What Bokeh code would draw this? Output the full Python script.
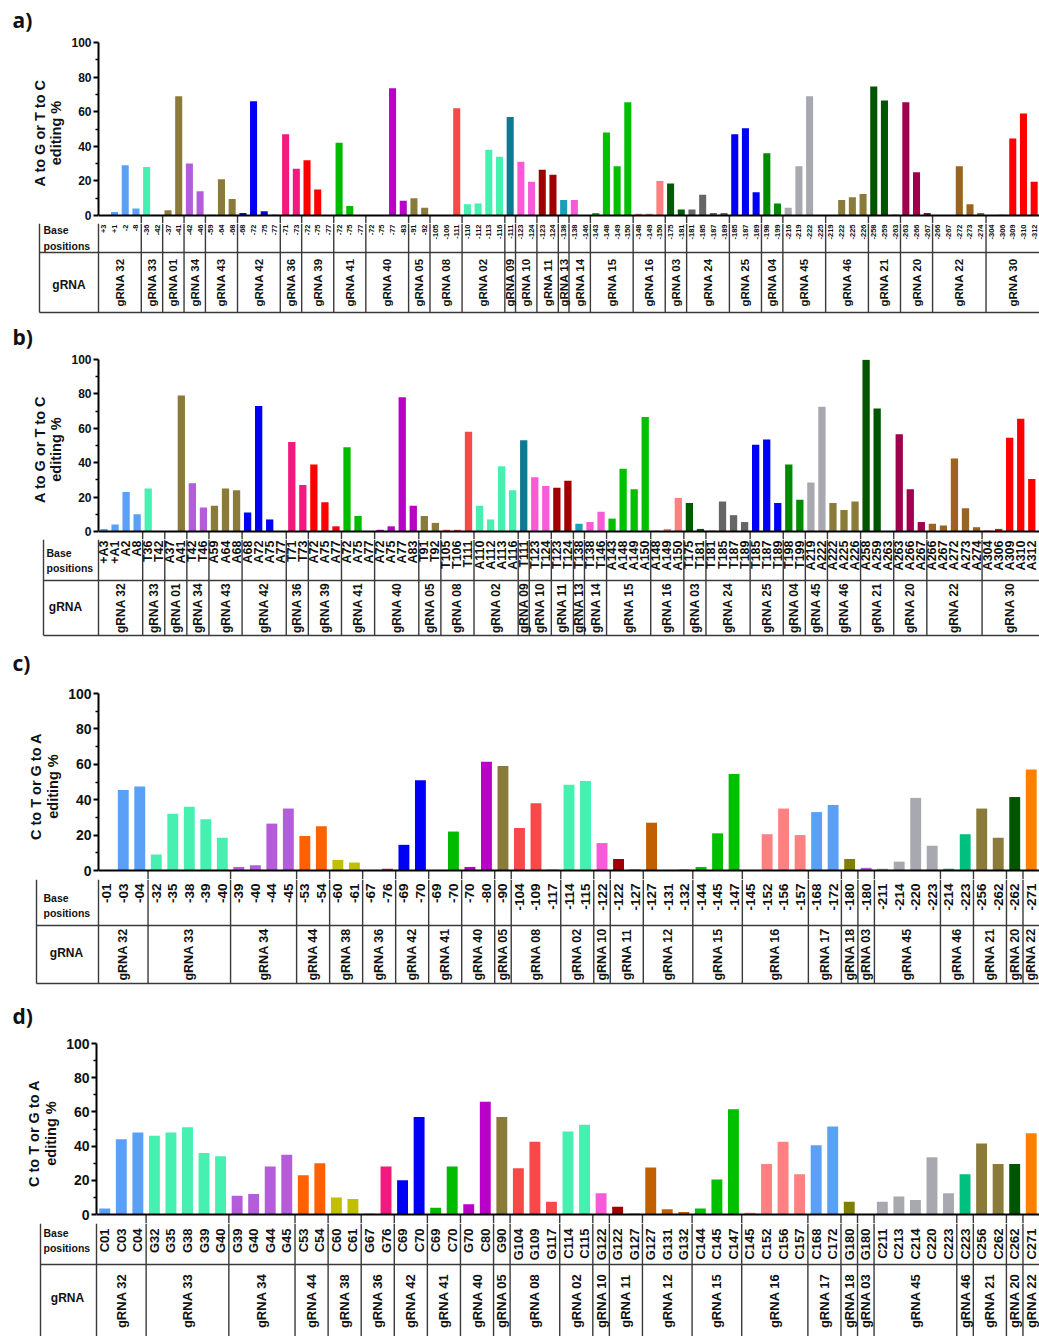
import math
from bokeh.plotting import figure
from bokeh.layouts import column
from bokeh.models import Range1d, FixedTicker, Span
from bokeh.embed import file_html
from bokeh.resources import INLINE
from bokeh.core.properties import value

# ---------------- data ----------------
a_grna = ["gRNA 32", "gRNA 33", "gRNA 01", "gRNA 34", "gRNA 43", "gRNA 42", "gRNA 36", "gRNA 39",
          "gRNA 41", "gRNA 40", "gRNA 05", "gRNA 08", "gRNA 02", "gRNA 09", "gRNA 10", "gRNA 11",
          "gRNA 13", "gRNA 14", "gRNA 15", "gRNA 16", "gRNA 03", "gRNA 24", "gRNA 25", "gRNA 04",
          "gRNA 45", "gRNA 46", "gRNA 21", "gRNA 20", "gRNA 22", "gRNA 30"]
a_sizes = [4, 2, 2, 2, 3, 4, 2, 3, 3, 4, 2, 3, 4, 1, 2, 2, 1, 2, 4, 3, 2, 4, 3, 2, 4, 4, 3, 3, 5, 5]
a_pos = ["+3", "+1", "-2", "-8", "-36", "-42", "-37", "-41", "-42", "-46", "-59", "-64", "-68",
         "-68", "-72", "-75", "-77", "-71", "-73", "-72", "-75", "-77", "-72", "-75", "-77",
         "-72", "-75", "-77", "-83", "-91", "-92", "-105", "-106", "-111", "-110", "-112", "-113", "-116",
         "-111", "-123", "-124", "-123", "-124", "-138", "-138", "-146", "-143", "-148", "-149", "-150",
         "-148", "-149", "-150", "-175", "-181", "-181", "-185", "-187", "-189", "-185", "-187", "-189",
         "-198", "-199", "-216", "-219", "-222", "-225", "-219", "-222", "-225", "-226",
         "-258", "-259", "-263", "-263", "-266", "-267", "-266", "-267", "-272", "-273", "-274",
         "-304", "-306", "-309", "-310", "-312"]
a_val = [0, 2, 29, 4, 28, 0.5, 3, 69, 30, 14, 0.5, 21, 9.5, 1.5, 66, 2.5, 0.5, 47, 27, 32, 15, 0,
         42, 5.5, 0, 0, 0, 73.5, 8.5, 10, 4.5, 0, 0, 62, 6.5, 7, 38, 34, 57, 31, 19.5, 26.5, 23.5, 9,
         9, 0, 1.5, 48, 28.5, 65.5, 1, 1, 20, 18.5, 3.5, 3.5, 12, 1.5, 1.5, 47, 50.5, 13.5, 36, 7,
         4.5, 28.5, 69, 0, 0, 9, 10.5, 12.5, 74.5, 66.5, 0.5, 65.5, 25, 1.5, 0, 0, 28.5, 6.5, 1.5,
         0, 0.5, 44.5, 59, 19.5]

b_grna = list(a_grna)
b_sizes = [4, 2, 2, 2, 3, 4, 2, 3, 3, 4, 2, 3, 4, 1, 2, 2, 1, 2, 4, 3, 2, 4, 3, 2, 2, 3, 3, 3, 5, 5]
b_pos = ["+A3", "+A1", "A2", "A8", "T36", "T42", "A37", "A41", "T42", "T46", "A59", "A64", "A68",
         "A68", "A72", "A75", "A77", "T71", "T73", "A72", "A75", "A77", "A72", "A75", "A77",
         "A72", "A75", "A77", "A83", "T91", "T92", "T105", "T106", "T111", "A110", "A112", "A113", "A116",
         "T111", "T123", "T124", "T123", "T124", "T138", "T138", "T146", "A143", "A148", "A149", "A150",
         "A148", "A149", "A150", "T175", "T181", "T181", "T185", "T187", "T189", "T185", "T187", "T189",
         "T198", "T199", "A219", "A222", "A222", "A225", "A226", "A258", "A259", "A263",
         "A263", "A266", "A267", "A266", "A267", "A272", "A273", "A274", "A304", "A306", "A309", "A310", "A312"]
b_val = [1.5, 4, 23, 10, 25, 0, 0, 79, 28, 14, 15, 25, 24, 11, 73, 7, 0, 52, 27, 39, 17, 3, 49, 9, 0,
         1, 3, 78, 15, 9, 5, 1, 1, 58, 15, 7, 38, 24, 53, 31.5, 26.5, 25.5, 29.5, 4.5, 5.5, 11.5,
         7.5, 36.5, 24.5, 66.5, 0.5, 1.5, 19.5, 16.5, 1.5, 0.5, 17.5, 9.5, 5.5, 50.5, 53.5, 16.5,
         39, 18.5, 28.5, 72.5, 16.5, 12.5, 17.5, 99.8, 71.5, 0, 56.5, 24.5, 5.5, 4.5, 3.5, 42.5, 13.5, 2.5,
         0.5, 1.5, 54.5, 65.5, 30.5]

c_grna = ["gRNA 32", "gRNA 33", "gRNA 34", "gRNA 44", "gRNA 38", "gRNA 36", "gRNA 42", "gRNA 41",
          "gRNA 40", "gRNA 05", "gRNA 08", "gRNA 02", "gRNA 10", "gRNA 11", "gRNA 12", "gRNA 15",
          "gRNA 16", "gRNA 17", "gRNA 18", "gRNA 03", "gRNA 45", "gRNA 46", "gRNA 21", "gRNA 20", "gRNA 22"]
c_sizes = [3, 5, 4, 2, 2, 2, 2, 2, 2, 1, 3, 2, 1, 2, 3, 3, 4, 2, 1, 1, 4, 2, 2, 1, 1]
c_pos = ["-01", "-03", "-04", "-32", "-35", "-38", "-39", "-40", "-39", "-40", "-44", "-45",
         "-53", "-54", "-60", "-61", "-67", "-76", "-69", "-70", "-69", "-70", "-70", "-80", "-90",
         "-104", "-109", "-117", "-114", "-115", "-122", "-122", "-127", "-127", "-131", "-132",
         "-144", "-145", "-147", "-145", "-152", "-156", "-157", "-168", "-172", "-180", "-180",
         "-211", "-214", "-220", "-223", "-214", "-223", "-256", "-262", "-262", "-271"]
c_val = [0.3, 45.5, 47.5, 9, 32, 36, 29, 18.5, 2, 3, 26.5, 35, 19.5, 25, 6, 4.5, 0, 1, 14.5, 51,
         0.3, 22, 2, 61.5, 59, 24, 38, 0.5, 48.5, 50.5, 15.5, 6.5, 0.5, 27, 0, 0.5, 2, 21, 54.5,
         0, 20.5, 35, 20, 33, 37, 6.5, 1.5, 1, 5, 41, 14, 1, 20.5, 35, 18.5, 41.5, 57]

d_grna = list(c_grna)
d_sizes = [3, 5, 4, 2, 2, 2, 2, 2, 2, 1, 3, 2, 1, 2, 3, 3, 4, 2, 1, 1, 5, 1, 2, 1, 1]
d_pos = ["C01", "C03", "C04", "G32", "G35", "G38", "G39", "G40", "G39", "G40", "G44", "G45",
         "C53", "C54", "C60", "C61", "G67", "G76", "C69", "C70", "C69", "C70", "G70", "C80", "G90",
         "G104", "G109", "G117", "C114", "C115", "G122", "G122", "G127", "G127", "G131", "G132",
         "C144", "C145", "C147", "C145", "C152", "C156", "C157", "C168", "C172", "G180", "G180",
         "C211", "C213", "C214", "C220", "C223", "C223", "C256", "C262", "C262", "C271"]
d_val = [3.5, 44, 48, 46, 48, 51, 36, 34, 11, 12, 28, 35, 23, 30, 10, 9, 0.5, 28, 20, 57, 4, 28,
         6, 66, 57, 27, 42.5, 7.5, 48.5, 52.5, 12.5, 4.5, 0.5, 27.5, 3, 1.5, 3.5, 20.5, 61.5,
         1, 29.5, 42.5, 23.5, 40.5, 51.5, 7.5, 0, 7.5, 10.5, 8.5, 33.5, 12.5, 23.5, 41.5, 29.5, 29.5, 47.5]

# ---------------- styles ----------------
pal_ab = {"gRNA 32": "#5AA0F7", "gRNA 33": "#45F0B0", "gRNA 01": "#8B7B3A", "gRNA 34": "#B45CD9",
          "gRNA 43": "#8B7B3A", "gRNA 42": "#0000F5", "gRNA 36": "#F5187F", "gRNA 39": "#FF0000",
          "gRNA 41": "#00BB00", "gRNA 40": "#B800C8", "gRNA 05": "#8B7B3A", "gRNA 08": "#F84848",
          "gRNA 02": "#45F0B0", "gRNA 09": "#0E7A92", "gRNA 10": "#F85AD8", "gRNA 11": "#A00000",
          "gRNA 13": "#1AA0BA", "gRNA 14": "#F85AD8", "gRNA 15": "#00C000", "gRNA 16": "#FF8080",
          "gRNA 03": "#005C00", "gRNA 24": "#666666", "gRNA 25": "#0000F5", "gRNA 04": "#008A00",
          "gRNA 45": "#A8A8B0", "gRNA 46": "#8B7B3A", "gRNA 21": "#005500", "gRNA 20": "#A0004C",
          "gRNA 22": "#9A6420", "gRNA 30": "#FF0000"}
pal_cd = {"gRNA 32": "#5AA0F7", "gRNA 33": "#45F0B0", "gRNA 34": "#B45CD9", "gRNA 44": "#FF6000",
          "gRNA 38": "#C0C000", "gRNA 36": "#F5187F", "gRNA 42": "#0000F5", "gRNA 41": "#00BB00",
          "gRNA 40": "#B800C8", "gRNA 05": "#8B7B3A", "gRNA 08": "#F84848", "gRNA 02": "#45F0B0",
          "gRNA 10": "#F85AD8", "gRNA 11": "#A00000", "gRNA 12": "#C06000", "gRNA 15": "#00C000",
          "gRNA 16": "#FF8080", "gRNA 17": "#5AA0F7", "gRNA 18": "#808000", "gRNA 03": "#B45CD9",
          "gRNA 45": "#A8A8B0", "gRNA 46": "#00C080", "gRNA 21": "#8B7B3A", "gRNA 20": "#005500",
          "gRNA 22": "#FF8000"}

W = 1039
FONT = "Liberation Sans"
LINE = "#3a3a3a"


def expand(names, sizes):
    out = []
    for n, s in zip(names, sizes):
        out += [n] * s
    return out


def edges(sizes):
    b = [0]
    for s in sizes:
        b.append(b[-1] + s)
    return b


def bare(h, xr, yr):
    f = figure(width=W, height=h, x_range=xr, y_range=yr, title=None,
               output_backend="svg", toolbar_location=None, x_axis_location=None,
               y_axis_location=None, min_border_left=0, min_border_right=0, min_border_top=0,
               min_border_bottom=0, outline_line_color=None, frame_align=False)
    f.grid.visible = False
    return f


def panel(label, ylab, names, sizes, pos, vals, pal, g):
    N = len(vals)
    ax = g["ax"]
    xend = N + g["xpad"]
    topb = g["topb"]

    # panel letter
    h_lab = g["y100"] - topb - g["top"]
    lab = bare(h_lab, Range1d(0, W), Range1d(h_lab, 0))
    lab.text(x=[12], y=[g["label_y"] - g["top"]], text=[label], text_align="left",
             text_baseline="middle", text_font=value("Open Sans"), text_font_style="bold",
             text_font_size="21px", text_color="#111111")

    # bars
    top_start = g["y100"] - topb
    ppu = (g["y0"] - g["y100"]) / 100.0
    h_top = g["junction"] - top_start
    ystart = -(g["junction"] - g["y0"]) / ppu
    p = figure(width=W, height=h_top, x_range=Range1d(0, xend), y_range=Range1d(ystart, 100),
               title=None, output_backend="svg", toolbar_location=None, x_axis_location=None,
               min_border_left=ax, min_border_right=0, min_border_top=topb,
               min_border_bottom=0, outline_line_color=None, frame_align=False)
    p.grid.visible = False
    groups = expand(names, sizes)
    colors = [pal[n] for n in groups]
    xs = [i + 0.5 for i in range(N)]
    p.vbar(x=xs, top=vals, bottom=0, width=0.66, fill_color=colors, line_color=None)
    p.add_layout(Span(location=0, dimension="width", line_color="black", line_width=2))
    bnd = edges(sizes)
    inner = bnd[1:-1]
    p.segment(x0=inner, y0=[0] * len(inner), x1=inner, y1=[ystart] * len(inner),
              line_color=LINE, line_width=1.4)

    yax = p.yaxis[0]
    yax.ticker = FixedTicker(ticks=[0, 20, 40, 60, 80, 100], minor_ticks=[10, 30, 50, 70, 90])
    yax.bounds = (0, 100)
    yax.axis_line_width = 2
    yax.axis_line_color = "black"
    yax.major_tick_out = 5
    yax.major_tick_in = 0
    yax.minor_tick_out = 3
    yax.minor_tick_in = 0
    yax.major_tick_line_width = 2
    yax.minor_tick_line_width = 1.5
    yax.major_label_text_font = FONT
    yax.major_label_text_font_style = "bold"
    yax.major_label_text_font_size = g["tick_fs"]
    yax.major_label_text_color = "#111111"
    yax.major_label_standoff = 2
    yax.axis_label = ylab
    yax.axis_label_text_font = FONT
    yax.axis_label_text_font_style = "bold"
    yax.axis_label_text_font_size = "14.5px"
    yax.axis_label_text_color = "#111111"
    yax.axis_label_standoff = 4
    yax.axis_label_text_line_height = 1.05

    # table
    w = (W - ax) / xend
    h_bot = g["bottom"] - g["junction"]
    q = bare(h_bot, Range1d(-ax / w, xend), Range1d(h_bot, 0))
    tl = (g["table_left"] - ax) / w
    rb = g["row2"] if g["row2"] is not None else h_bot
    vx = [tl, 0] + inner
    q.segment(x0=vx, y0=[0] * len(vx), x1=vx, y1=[rb] * len(vx), line_color=LINE, line_width=1.4)
    hy = [g["row1"]] + ([g["row2"]] if g["row2"] is not None else [])
    q.segment(x0=[tl] * len(hy), y0=hy, x1=[xend] * len(hy), y1=hy, line_color=LINE, line_width=1.6)

    q.text(x=xs, y=[g["base_top"]] * N, text=pos, angle=math.pi / 2, text_align="right",
           text_baseline="middle", text_font=value(FONT), text_font_style="bold",
           text_font_size=g["base_fs"], text_color="#111111")
    centers = [(bnd[i] + bnd[i + 1]) / 2 for i in range(len(sizes))]
    q.text(x=centers, y=[g["grna_y"]] * len(centers), text=names, angle=math.pi / 2,
           text_align="center", text_baseline="middle", text_font=value(FONT),
           text_font_style="bold", text_font_size=g["grna_fs"], text_color="#111111")
    q.text(x=[(g["hdr_x"] - ax) / w], y=[g["hdr_base_y"]], text=["Base\npositions"],
           text_align="left", text_baseline="middle", text_font=value(FONT),
           text_font_style="bold", text_font_size="10.5px", text_line_height=1.3,
           text_color="#111111")
    q.text(x=[(g["hdr_grna_x"] - ax) / w], y=[g["hdr_grna_y"]], text=["gRNA"],
           text_align="center", text_baseline="middle", text_font=value(FONT),
           text_font_style="bold", text_font_size="12px", text_color="#111111")
    return [lab, p, q]


geo_a = dict(top=0, label_y=19, topb=8, y100=42, y0=215, junction=223, bottom=314, row1=29, row2=89,
             ax=98, xpad=0, table_left=39, tick_fs="12px", base_fs="7.5px", base_top=1, grna_fs="11.5px",
             grna_y=59, hdr_x=43, hdr_base_y=14.5, hdr_grna_x=68.5, hdr_grna_y=61)
geo_b = dict(top=314, label_y=336, topb=8, y100=359, y0=531, junction=539, bottom=637, row1=41, row2=96,
             ax=98, xpad=0.2, table_left=43, tick_fs="12px", base_fs="12.5px", base_top=1, grna_fs="12px",
             grna_y=68.5, hdr_x=46, hdr_base_y=21, hdr_grna_x=65, hdr_grna_y=67)
geo_c = dict(top=637, label_y=662, topb=9, y100=693, y0=870, junction=879, bottom=985, row1=46, row2=104,
             ax=98, xpad=0, table_left=36, tick_fs="14px", base_fs="13.5px", base_top=4, grna_fs="12.5px",
             grna_y=75, hdr_x=43, hdr_base_y=26, hdr_grna_x=66, hdr_grna_y=73)
geo_d = dict(top=985, label_y=1015, topb=9, y100=1043, y0=1214, junction=1223, bottom=1336, row1=41,
             row2=None, ax=96, xpad=0, table_left=40, tick_fs="14px", base_fs="13px", base_top=5,
             grna_fs="13px", grna_y=77.5, hdr_x=43, hdr_base_y=17, hdr_grna_x=67, hdr_grna_y=74.5)

figs = []
figs += panel("a)", "A to G or T to C\nediting %", a_grna, a_sizes, a_pos, a_val, pal_ab, geo_a)
figs += panel("b)", "A to G or T to C\nediting %", b_grna, b_sizes, b_pos, b_val, pal_ab, geo_b)
figs += panel("c)", "C to T or G to A\nediting %", c_grna, c_sizes, c_pos, c_val, pal_cd, geo_c)
figs += panel("d)", "C to T or G to A\nediting %", d_grna, d_sizes, d_pos, d_val, pal_cd, geo_d)

layout = column(*figs, spacing=0)
open("out.html", "w").write(file_html(layout, INLINE))
